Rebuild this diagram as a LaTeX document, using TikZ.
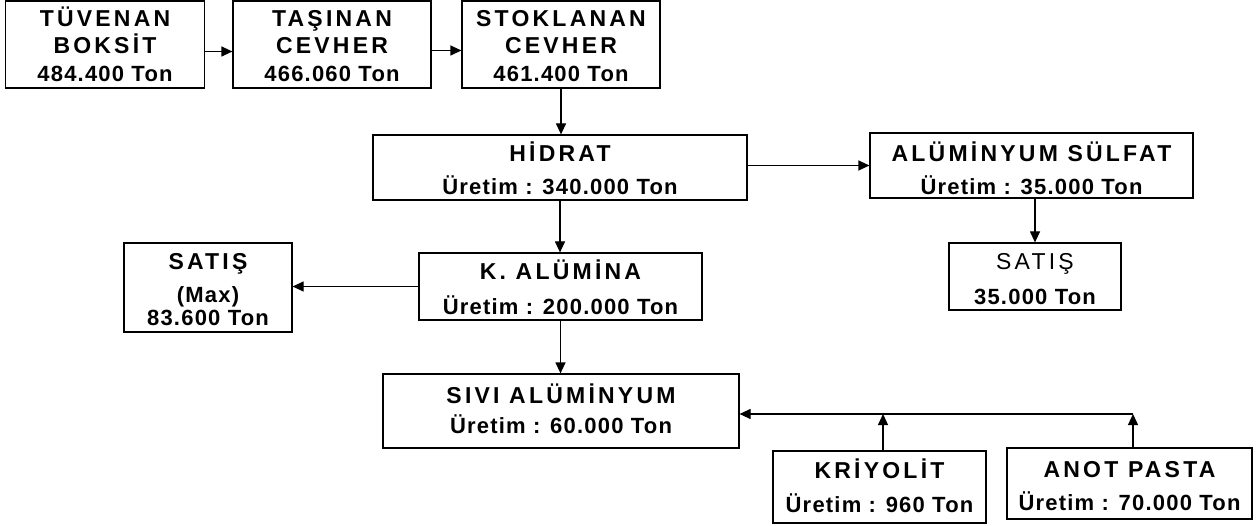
\documentclass[tikz,border=0pt]{standalone}
\usepackage{fontspec}
\setmainfont{Liberation Sans}
\newfontfamily\ttlfont{Liberation Sans}[LetterSpace=14]
\newfontfamily\subfont{Liberation Sans}[LetterSpace=5.5]
\usetikzlibrary{arrows.meta}
\tikzset{
  box/.style={draw, line width=1.2pt, rectangle, inner sep=0pt},
  ttl/.style={inner sep=0pt, anchor=base, font=\ttlfont\bfseries\fontsize{23}{27}\selectfont},
  ttlr/.style={inner sep=0pt, anchor=base, font=\ttlfont\fontsize{23}{27}\selectfont},
  sub/.style={inner sep=0pt, anchor=base, font=\subfont\bfseries\fontsize{22}{26}\selectfont},
  arr/.style={line width=1.2pt, -{Triangle[length=11pt,width=10pt]}},
  ln/.style={line width=1.2pt}
}
\begin{document}
\begin{tikzpicture}[x=1pt,y=-1pt]
\useasboundingbox (0,0) rectangle (1257,526);
% top row
\node[box, minimum width=199pt, minimum height=87pt] (tuv) at (105,44.5) {};
\node[ttl] (tuv1) at (105,27) {TÜVENAN};
\node[ttl] (tuv2) at (105,54) {BOKSİT};
\node[sub] (tuv3) at (105,82) {484.400 Ton};
\node[box, minimum width=198pt, minimum height=87pt] (tas) at (332,44.5) {};
\node[ttl] (tas1) at (332,27) {TAŞINAN};
\node[ttl] (tas2) at (332,54) {CEVHER};
\node[sub] (tas3) at (332,82) {466.060 Ton};
\node[box, minimum width=198pt, minimum height=87pt] (stk) at (561,44.5) {};
\node[ttl] (stk1) at (561,27) {STOKLANAN};
\node[ttl] (stk2) at (561,54) {CEVHER};
\node[sub] (stk3) at (561,82) {461.400 Ton};
% hidrat
\node[box, minimum width=374pt, minimum height=65pt] (hid) at (560,167.5) {};
\node[ttl] (hid1) at (560,162) {HİDRAT};
\node[sub] (hid2) at (560,195) {Üretim : 340.000 Ton};
% aluminyum sulfat
\node[box, minimum width=323pt, minimum height=65pt] (als) at (1031.5,165.5) {};
\node[ttl] (als1) at (1031.5,162) {ALÜMİNYUM SÜLFAT};
\node[sub] (als2) at (1031.5,195) {Üretim : 35.000 Ton};
% satis right
\node[box, minimum width=172pt, minimum height=67pt] (sat2) at (1035,276.5) {};
\node[ttlr] (sat21) at (1035,270) {SATIŞ};
\node[sub] (sat22) at (1035,305) {35.000 Ton};
% k alumina
\node[box, minimum width=283pt, minimum height=67pt] (kal) at (560.5,286.5) {};
\node[ttl] (kal1) at (560.5,280) {K. ALÜMİNA};
\node[sub] (kal2) at (560.5,315) {Üretim : 200.000 Ton};
% satis left
\node[box, minimum width=168pt, minimum height=89pt] (sat1) at (208,287.5) {};
\node[ttl] (sat11) at (208,270) {SATIŞ};
\node[sub] (sat12) at (208,302) {(Max)};
\node[sub] (sat13) at (208,326) {83.600 Ton};
% sivi aluminyum
\node[box, minimum width=356pt, minimum height=74pt] (siv) at (561,411) {};
\node[ttl] (siv1) at (561,403) {SIVI ALÜMİNYUM};
\node[sub] (siv2) at (561,433) {Üretim : 60.000 Ton};
% kriyolit
\node[box, minimum width=213pt, minimum height=72pt] (kri) at (879.5,487) {};
\node[ttl] (kri1) at (879.5,478) {KRİYOLİT};
\node[sub] (kri2) at (879.5,512) {Üretim : 960 Ton};
% anot pasta
\node[box, minimum width=245pt, minimum height=71pt] (ano) at (1129.5,483.5) {};
\node[ttl] (ano1) at (1129.5,477) {ANOT PASTA};
\node[sub] (ano2) at (1129.5,510) {Üretim : 70.000 Ton};
% connectors
\coordinate (jk) at (883,414);
\coordinate (ja) at (1133,414);
\draw[arr] ([yshift=-7pt]tuv.east) -- ([yshift=-7pt]tas.west);
\draw[arr] ([yshift=-6pt]tas.east) -- ([yshift=-6pt]stk.west);
\draw[arr] (stk.south) -- (stk.south |- hid.north);
\draw[arr] (hid.east |- als.west) -- (als.west);
\draw[arr] (sat2.north |- als.south) -- (sat2.north);
\draw[arr] (hid.south) -- (hid.south |- kal.north);
\draw[arr] (kal.west) -- (kal.west -| sat1.east);
\draw[arr] (kal.south) -- (kal.south |- siv.north);
\draw[arr] (jk |- kri.north) -- (jk);
\draw[arr] (ja |- ano.north) -- (ja);
\draw[arr] (ja) -- (ja -| siv.east);
\end{tikzpicture}
\end{document}
